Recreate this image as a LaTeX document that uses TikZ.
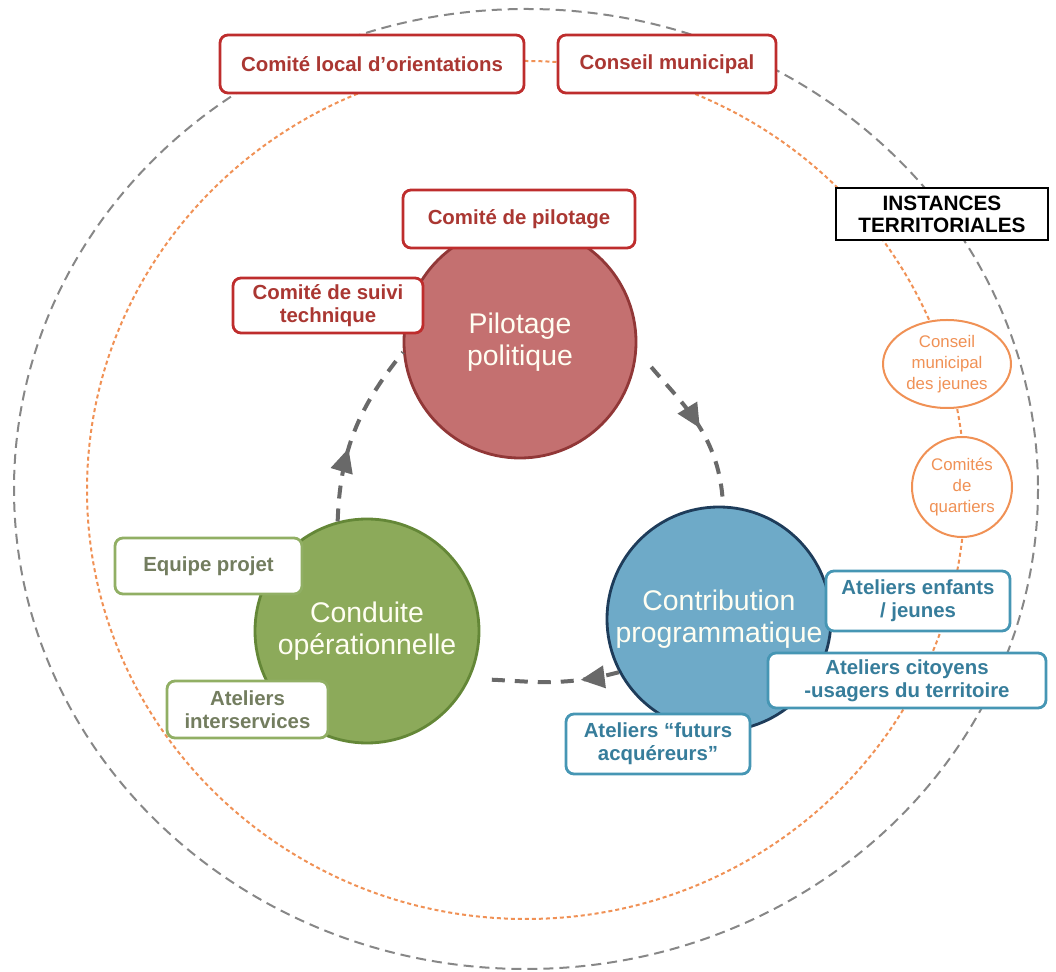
\documentclass[tikz,border=0pt]{standalone}
\usepackage{fontspec}
\setmainfont{Liberation Sans}
\usetikzlibrary{arrows.meta, decorations.markings, shapes.geometric}
\definecolor{ringgrey}{RGB}{135,135,135}
\definecolor{ringorange}{RGB}{240,145,85}
\definecolor{cyclegrey}{RGB}{105,105,105}
\definecolor{pilfill}{RGB}{196,112,112}
\definecolor{pilline}{RGB}{145,55,55}
\definecolor{redline}{RGB}{190,45,45}
\definecolor{redtext}{RGB}{170,55,50}
\definecolor{condfill}{RGB}{140,170,90}
\definecolor{condline}{RGB}{100,135,55}
\definecolor{greenline}{RGB}{145,175,100}
\definecolor{greentext}{RGB}{115,125,95}
\definecolor{contfill}{RGB}{110,170,200}
\definecolor{contline}{RGB}{30,60,90}
\definecolor{blueline}{RGB}{70,150,180}
\definecolor{bluetext}{RGB}{55,125,155}

\begin{document}
\begin{tikzpicture}[x=0.5pt, y=-0.5pt]
    \tikzstyle{box}=[rectangle, rounded corners=4pt, fill=white, line width=1.4pt, align=center, inner sep=1pt, font=\fontsize{10.2}{11.6}\selectfont\bfseries]
    \tikzstyle{red box}=[box, draw=redline, text=redtext]
    \tikzstyle{green box}=[box, draw=greenline, text=greentext]
    \tikzstyle{blue box}=[box, draw=blueline, text=bluetext]
    \tikzstyle{pole}=[circle, line width=1.4pt, align=center, inner sep=0pt, text={white!95!yellow}, font=\fontsize{14.2}{16}\selectfont]
    \tikzstyle{local}=[fill=white, draw=ringorange, line width=1pt, text=ringorange, align=center, inner sep=0pt, font=\fontsize{8.4}{10.4}\selectfont]
    \tikzstyle{cyc}=[draw=cyclegrey, line width=2pt, dash pattern=on 6.5pt off 5pt]
    \tikzset{midhead/.style={postaction={decorate}, decoration={markings, mark=at position #1 with {\arrow{Triangle[length=12pt,width=11pt]}}}}}

    \useasboundingbox (0,0) rectangle (1056,972);

    % instances territoriales
    \draw[ringgrey, line width=1pt, dash pattern=on 5pt off 3pt] (526,489) ellipse [x radius=512, y radius=480];
    \draw[ringorange, line width=1pt, dash pattern=on 2pt off 1.5pt] (526,490) ellipse [x radius=439, y radius=429];

    \node[red box, minimum width=152pt, minimum height=29pt] (CLO) at (372,64) {Comité local d’orientations};
    \node[red box, minimum width=109pt, minimum height=29pt] (CM) at (667,64) {Conseil municipal};
    \node[rectangle, fill=white, draw=black, line width=1.2pt, align=center, inner sep=1pt,
          minimum width=106pt, minimum height=26pt, font=\fontsize{10.4}{11}\selectfont\bfseries] (IT) at (942,214) {INSTANCES\\TERRITORIALES};
    \node[local, ellipse, minimum width=64pt, minimum height=44pt] (CMJ) at (947,364) {Conseil\\municipal\\des jeunes};
    \node[local, circle, minimum size=50pt] (CQ) at (962,487) {Comités\\de\\quartiers};

    % les trois poles
    \node[pole, fill=pilfill, draw=pilline, minimum size=116pt] (PP) at (520,342) {Pilotage\\politique};
    \node[pole, fill=condfill, draw=condline, minimum size=112pt] (CO) at (367,631) {Conduite\\opérationnelle};
    \node[pole, fill=contfill, draw=contline, minimum size=112pt] (CPg) at (719,619) {Contribution\\programmatique};

    \node[red box, minimum width=116pt, minimum height=29pt] (CP) at (519,219) {Comité de pilotage};
    \node[red box, minimum width=95pt, minimum height=27.5pt] (CST) at (328,305.5) {Comité de suivi\\technique};
    \node[green box, minimum width=93.5pt, minimum height=28pt] (EP) at (208.5,566) {Equipe projet};
    \node[green box, minimum width=80.5pt, minimum height=28.5pt] (AI) at (247.5,709.5) {Ateliers\\interservices};
    \node[blue box, minimum width=92pt, minimum height=30pt] (AEJ) at (918,601) {Ateliers enfants\\/ jeunes};
    \node[blue box, minimum width=139pt, minimum height=27.5pt] (ACU) at (907,680.5) {Ateliers citoyens\\-usagers du territoire};
    \node[blue box, minimum width=92pt, minimum height=30pt] (AFA) at (658,744) {Ateliers “futurs\\acquéreurs”};

    % cycle
    \path (PP.-4) edge[cyc, midhead=0.55, shorten <=11pt, out=-50, in=92] (CPg.88);
    \path (CPg.208) edge[cyc, midhead=0.26, shorten >=9pt, out=195, in=-2] (CO.-25);
    \path (CO.105) edge[cyc, midhead=0.4, out=88, in=231] (PP.185);
\end{tikzpicture}
\end{document}
